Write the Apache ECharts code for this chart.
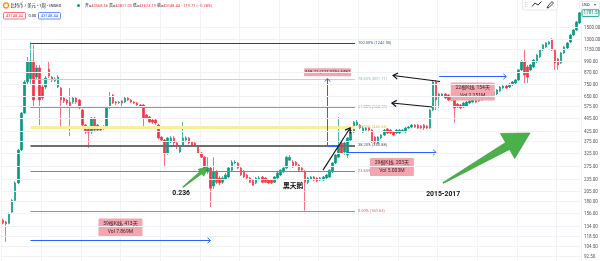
<!DOCTYPE html>
<html>
<head>
<meta charset="utf-8">
<script src="https://cdn.jsdelivr.net/npm/echarts@6/dist/echarts.min.js"></script>
<style>
  html, body { margin: 0; padding: 0; background: #ffffff; }
  #main { width: 600px; height: 261px; }
</style>
</head>
<body>
<div id="main"></div>
<script>
// Weekly candles, each [open, close, low, high]
const candles = [
  [143, 138, 136, 146], [140, 137, 110, 142], [138, 155, 136, 157], [158, 182, 155, 185],
  [182, 225, 180, 230], [225, 336, 222, 340], [336, 527, 332, 533], [527, 768, 520, 787],
  [768, 980, 750, 1041], [800, 992, 750, 1242],
  [992, 617, 567, 1206], [816, 911, 787, 945], [911, 617, 455, 945], [723, 632, 617, 741],
  [723, 806, 706, 827], [900, 827, 806, 980], [816, 787, 768, 827], [780, 797, 768, 816],
  [723, 816, 714, 837], [714, 617, 444, 723],
  [632, 610, 595, 648], [617, 595, 581, 625], [602, 567, 398, 714], [602, 632, 588, 648],
  [632, 602, 588, 640], [617, 560, 553, 625], [546, 455, 444, 553], [455, 418, 408, 461],
  [444, 418, 344, 450], [418, 496, 408, 502],
  [496, 428, 418, 502], [428, 455, 423, 461], [444, 428, 418, 450], [439, 444, 428, 455],
  [444, 567, 439, 574], [567, 640, 553, 680], [656, 595, 588, 664], [602, 595, 581, 610],
  [598, 602, 588, 610], [610, 595, 560, 617],
  [602, 632, 595, 640], [632, 617, 610, 640], [617, 602, 595, 625], [602, 595, 588, 610],
  [595, 581, 574, 602], [581, 567, 560, 588], [581, 496, 444, 588], [514, 496, 490, 520],
  [502, 472, 467, 508], [484, 472, 461, 490],
  [484, 467, 455, 490], [455, 389, 384, 461], [393, 379, 370, 398], [379, 324, 273, 384],
  [324, 389, 316, 393], [375, 389, 366, 398], [389, 366, 357, 398], [366, 348, 340, 370],
  [328, 352, 320, 357], [357, 389, 352, 472],
  [379, 389, 370, 398], [389, 366, 361, 393], [370, 357, 352, 375], [366, 357, 352, 370],
  [352, 324, 320, 357], [324, 308, 305, 328], [308, 257, 251, 312], [257, 270, 251, 308],
  [270, 211, 168, 273], [217, 257, 209, 308],
  [257, 227, 222, 263], [239, 225, 219, 245], [227, 239, 222, 245], [236, 248, 233, 254],
  [242, 270, 239, 276], [263, 290, 260, 297], [287, 290, 283, 297], [287, 270, 266, 290],
  [270, 248, 245, 273], [260, 242, 239, 263],
  [248, 239, 236, 251], [239, 227, 225, 242], [233, 219, 217, 236], [225, 239, 222, 242],
  [236, 239, 233, 245], [242, 227, 225, 245], [239, 227, 225, 242], [233, 225, 222, 236],
  [233, 225, 222, 236], [227, 242, 225, 245],
  [239, 254, 236, 257], [248, 263, 245, 266], [257, 270, 254, 273], [270, 308, 266, 312],
  [297, 308, 294, 316], [290, 273, 270, 297], [290, 280, 276, 294], [280, 263, 260, 283],
  [270, 263, 257, 273], [257, 227, 160.63, 263],
  [227, 239, 222, 242], [236, 242, 233, 245], [242, 233, 230, 245], [239, 230, 227, 242],
  [233, 239, 230, 242], [233, 242, 230, 245], [239, 248, 236, 251], [242, 263, 239, 266],
  [257, 287, 254, 290], [287, 316, 283, 320],
  [308, 348, 305, 502], [366, 324, 320, 375], [328, 366, 316, 370], [316, 389, 305, 393],
  [379, 428, 370, 434], [418, 472, 413, 478], [455, 472, 450, 484], [455, 439, 434, 461],
  [418, 439, 413, 450], [428, 439, 423, 444],
  [439, 428, 418, 444], [428, 370, 366, 434], [393, 370, 361, 398], [366, 393, 361, 398],
  [389, 403, 384, 408], [403, 428, 398, 434], [434, 413, 408, 439], [428, 413, 408, 434],
  [418, 403, 398, 423], [413, 428, 408, 434],
  [413, 428, 408, 434], [423, 428, 418, 434], [418, 439, 413, 444], [439, 444, 434, 450],
  [444, 455, 439, 461], [455, 444, 439, 461], [455, 439, 434, 461], [450, 439, 434, 455],
  [455, 439, 428, 461], [450, 439, 434, 455],
  [439, 546, 434, 553], [546, 768, 540, 778], [768, 617, 546, 787], [640, 664, 560, 672],
  [648, 664, 640, 672], [664, 632, 625, 672], [656, 617, 610, 664], [640, 617, 610, 648],
  [617, 560, 467, 625], [588, 567, 560, 595],
  [581, 560, 553, 588], [567, 595, 560, 602], [574, 602, 567, 610], [595, 610, 588, 617],
  [602, 617, 595, 625], [617, 602, 595, 625], [610, 625, 602, 632], [617, 632, 610, 640],
  [640, 625, 617, 648], [632, 648, 625, 656],
  [640, 664, 632, 672], [656, 680, 648, 689], [664, 697, 656, 706], [689, 723, 680, 732],
  [714, 732, 706, 741], [732, 714, 706, 741], [723, 750, 714, 759], [741, 768, 732, 778],
  [759, 787, 750, 797], [787, 890, 778, 900],
  [890, 980, 879, 1004], [980, 837, 759, 1134], [922, 816, 759, 945], [890, 945, 879, 957],
  [922, 1004, 911, 1017], [980, 1068, 968, 1081], [1041, 1134, 1029, 1148], [1134, 1206, 1121, 1220],
  [1176, 1235, 1162, 1250], [1220, 1250, 1206, 1266],
  [1281, 1134, 1121, 1312], [1134, 968, 890, 1148], [1017, 945, 890, 1029], [968, 1094, 957, 1107],
  [1094, 1176, 1081, 1191], [1162, 1235, 1148, 1250], [1250, 1361, 1235, 1378], [1361, 1446, 1345, 1464],
  [1446, 1594, 1429, 1614], [1575, 1781.51, 1556, 1800]
];
const categories = candles.map((_, i) => i);

// Price scale ticks on the right
const priceTicks = [1500, 1300, 1150, 990, 870, 750, 650, 575, 495, 425, 375, 325, 275,
  235, 205, 180, 156, 134, 118.5, 104.5, 92.5];
const lastPrice = 1781.51;

// Fibonacci retracement (log scale), 0% low to 100% high
const fibRatios = ['0.00%', '23.60%', '38.20%', '50.00%', '61.80%', '78.60%', '100.00%'];
const fibPrices = [160.63, 260.29, 350.88, 446.66, 568.59, 801.71, 1242.00];
const fibStartBar = 9;
const fibEndBar = 115.4;

// Date-range measurements
const rangeFrom = [9, 113, 143];
const rangeTo = [68, 142, 165];
const rangeArrowPrice = [112.4, 328, 822];
const rangeLabelPrice = [131, 273, 684];
const rangeBars = ['59根K线, 413天', '29根K线, 203天', '22根K线, 154天'];
const rangeVol = ['Vol 7.869M', 'Vol 5.003M', 'Vol 2.251M'];

// Price-range measurement
const measureBar = 106.2;
const measureFrom = 352.04;
const measureTo = 800.25;
const measureText = '448.21 (127.32%) 4482';

// Hand-drawn arrows: [bar, price] pairs
const blackArrowFrom = [[104.9, 263], [143.3, 773], [140.7, 567]];
const blackArrowTo = [[113.8, 439], [127.9, 832], [127.5, 595]];
const greenArrowFrom = [[59.0, 214], [144.3, 225]];
const greenArrowTo = [[67.2, 273], [172.8, 413]];

// Text notes
const noteText = ['0.236', '黑天鹅', '2015-2017'];
const noteAt = [[58.4, 199], [95.1, 217], [144.3, 196]];

// Header quote
const headerTitle = '比特币 / 美元 - 1周 - INDEX';
const quoteKeys = ['开', '高', '低', '收'];
const quoteVals = ['43568.56', '43811.05', '41623.19', '43148.44'];
const quoteChange = '−119.71 (−0.28%)';
const headerPrice = '43148.44';
const headerSpread = '0.00';

const W = 600, H = 261;
const GRID = { left: 1.5, right: 19, top: 0, bottom: 0 };
const Y_MIN = 87.1, Y_MAX = 2083;
const FONT = "Roboto, 'Noto Sans CJK SC', sans-serif";
const UP = '#089981', DOWN = '#f23645';
const BLUE = '#2962ff';

const chart = echarts.init(document.getElementById('main'), null, { renderer: 'canvas' });
chart.setOption({
  animation: false,
  backgroundColor: '#ffffff',
  grid: { left: GRID.left, right: GRID.right, top: GRID.top, bottom: GRID.bottom },
  xAxis: {
    type: 'category', data: categories, boundaryGap: true,
    axisLine: { show: false }, axisTick: { show: false }, axisLabel: { show: false },
    splitLine: { show: true, interval: 12, lineStyle: { color: '#f0f2f6', width: 1 } }
  },
  yAxis: {
    type: 'log', logBase: 10, min: Y_MIN, max: Y_MAX,
    axisLine: { show: false }, axisTick: { show: false }, axisLabel: { show: false },
    splitLine: { show: false }
  },
  series: [{
    type: 'candlestick', data: candles, barWidth: 2, z: 2,
    itemStyle: { color: UP, color0: DOWN, borderColor: UP, borderColor0: DOWN, borderWidth: 0.7 }
  }]
});

function px(i, v) {
  const i0 = Math.floor(i);
  const a = chart.convertToPixel({ xAxisIndex: 0, yAxisIndex: 0 }, [i0, v]);
  const b = chart.convertToPixel({ xAxisIndex: 0, yAxisIndex: 0 }, [i0 + 1, v]);
  return [a[0] + (b[0] - a[0]) * (i - i0), a[1]];
}
function chevron(p0, p1, len, ang) {
  const dx = p1[0] - p0[0], dy = p1[1] - p0[1], L = Math.hypot(dx, dy);
  const ux = dx / L, uy = dy / L;
  const side = s => [p1[0] - len * (ux * Math.cos(s) - uy * Math.sin(s)),
                     p1[1] - len * (ux * Math.sin(s) + uy * Math.cos(s))];
  return [side(ang), p1, side(-ang)];
}
function blockArrow(p0, p1, tailW, shaftW, headW, headL) {
  const dx = p1[0] - p0[0], dy = p1[1] - p0[1], L = Math.hypot(dx, dy);
  const ux = dx / L, uy = dy / L, nx = -uy, ny = ux;
  const bx = p1[0] - ux * headL, by = p1[1] - uy * headL;
  const off = (x, y, w) => [x + nx * w / 2, y + ny * w / 2];
  return [off(p0[0], p0[1], tailW), off(bx, by, shaftW), off(bx, by, headW), p1,
          off(bx, by, -headW), off(bx, by, -shaftW), off(p0[0], p0[1], -tailW)];
}
function txt(x, y, s, st, z) {
  return { type: 'text', x: x, y: y, z: z || 20, silent: true,
    style: Object.assign({ text: s, fontFamily: FONT, fontSize: 4.5, fill: '#131722',
      align: 'left', verticalAlign: 'middle' }, st || {}) };
}
function seg(x1, y1, x2, y2, stroke, w, z) {
  return { type: 'line', z: z || 15, silent: true, shape: { x1, y1, x2, y2 },
    style: { stroke: stroke, lineWidth: w } };
}

const g = [];
const xL = GRID.left, xR = W - GRID.right;

// horizontal grid and price scale labels
priceTicks.forEach(v => {
  const y = Math.round(px(0, v)[1]) + 0.5;
  g.push(seg(xL, y, xR, y, '#f0f2f6', 1, 0));
  g.push(txt(xR + 3, y, v.toFixed(2), { fill: '#50535e', fontSize: 4.5 }, 5));
});

// fibonacci levels
const fibStyles = [
  { color: '#e57373', width: 1, label: '#e06666' },
  { color: '#dc5a80', width: 1.2, label: '#d9547a' },
  { color: '#6e6e6e', width: 2, label: '#555555' },
  { color: '#f8ef9a', width: 3, label: '#d8c74f' },
  { color: '#74b06f', width: 1, label: '#5f9e5a' },
  { color: '#b4d6ea', width: 1, label: '#8fbcd8' },
  { color: '#2c426f', width: 1, label: '#3b5998' }
];
fibPrices.forEach((v, k) => {
  const a = px(fibStartBar, v), b = px(fibEndBar, v);
  const st = fibStyles[k];
  const y = Math.round(a[1]) + (st.width === 2 ? 0 : 0.5);
  g.push(seg(a[0], y, b[0], y, st.color, st.width, 10));
  g.push(txt(b[0] + 3, y + 1, fibRatios[k] + ' (' + v.toFixed(2) + ')',
    { fill: st.label, fontSize: 4, verticalAlign: 'bottom' }, 11));
});

// date ranges
const BOX_FILL = '#f3a6ae', BOX_TEXT = '#3b1d22';
rangeFrom.forEach((f, k) => {
  const a = px(f, rangeArrowPrice[k]), b = px(rangeTo[k], rangeArrowPrice[k]);
  const y = Math.round(a[1]) + 0.5;
  g.push(seg(a[0], y, b[0], y, BLUE, 1, 12));
  g.push({ type: 'polyline', z: 12, silent: true,
    shape: { points: chevron([a[0], y], [b[0], y], 4, 0.75) },
    style: { stroke: BLUE, lineWidth: 1, fill: null } });
  const c = px((f + rangeTo[k]) / 2, rangeLabelPrice[k]);
  g.push({ type: 'rect', z: 13, silent: true,
    shape: { x: c[0] - 22, y: c[1] - 9, width: 44, height: 18, r: 1 },
    style: { fill: BOX_FILL, stroke: null } });
  g.push(txt(c[0], c[1] - 4, rangeBars[k], { fill: BOX_TEXT, fontSize: 5, align: 'center' }, 14));
  g.push(txt(c[0], c[1] + 4, rangeVol[k], { fill: BOX_TEXT, fontSize: 5, align: 'center' }, 14));
});

// price range measurement
(function () {
  const p0 = px(measureBar, measureFrom), p1 = px(measureBar, measureTo);
  const x = Math.round(p0[0]) + 0.5;
  g.push(seg(x, p0[1], x, p1[1], BLUE, 1, 12));
  g.push(seg(x, Math.round(p0[1]) + 0.5, x + 11, Math.round(p0[1]) + 0.5, BLUE, 1, 12));
  g.push({ type: 'polyline', z: 12, silent: true,
    shape: { points: chevron([x, p0[1]], [x, p1[1]], 4, 0.75) },
    style: { stroke: BLUE, lineWidth: 1, fill: null } });
  g.push({ type: 'rect', z: 13, silent: true,
    shape: { x: x - 23.5, y: p1[1] - 10.5, width: 47, height: 8, r: 1 },
    style: { fill: BOX_FILL } });
  g.push(txt(x, p1[1] - 6.5, measureText, { fill: BOX_TEXT, fontSize: 4.4, align: 'center' }, 14));
})();

// black arrows
blackArrowFrom.forEach((f, k) => {
  const p0 = px(f[0], f[1]), p1 = px(blackArrowTo[k][0], blackArrowTo[k][1]);
  g.push(seg(p0[0], p0[1], p1[0], p1[1], '#111111', 1.1, 16));
  g.push({ type: 'polyline', z: 16, silent: true,
    shape: { points: chevron(p0, p1, 5.5, 0.6) },
    style: { stroke: '#111111', lineWidth: 1.2, fill: null } });
});

// green block arrows
const greenShape = [[0.8, 3, 9, 9], [1, 8, 29, 26]];
greenArrowFrom.forEach((f, k) => {
  const p0 = px(f[0], f[1]), p1 = px(greenArrowTo[k][0], greenArrowTo[k][1]);
  const s = greenShape[k];
  g.push({ type: 'polygon', z: 16, silent: true,
    shape: { points: blockArrow(p0, p1, s[0], s[1], s[2], s[3]) },
    style: { fill: '#4cb04a', stroke: '#36963a', lineWidth: 0.6 } });
});

// notes
noteText.forEach((s, k) => {
  const p = px(noteAt[k][0], noteAt[k][1]);
  g.push(txt(p[0], p[1], s, { fill: '#111111', fontSize: 6.8, fontWeight: 'bold', align: 'center' }, 17));
});

// last price tag
(function () {
  const p = px(189, lastPrice);
  g.push({ type: 'rect', z: 6, silent: true,
    shape: { x: xR + 1, y: Math.round(p[1]) - 3.5, width: 17, height: 7, r: 1 },
    style: { fill: '#e8f5f2', stroke: UP, lineWidth: 0.8 } });
  g.push(txt(xR + 2.6, Math.round(p[1]), lastPrice.toFixed(2), { fill: UP, fontSize: 4.5 }, 7));
})();

// header: symbol and quote
g.push({ type: 'circle', z: 20, silent: true, shape: { cx: 6, cy: 5.5, r: 2.5 },
  style: { fill: '#ffffff', stroke: '#f7931a', lineWidth: 1.3 } });
g.push(txt(10.5, 5.5, headerTitle, { fontSize: 4.3 }));
g.push({ type: 'circle', z: 20, silent: true, shape: { cx: 78.5, cy: 5.5, r: 1.5 },
  style: { fill: UP } });
let rich = '';
quoteKeys.forEach((k, i) => { rich += '{k|' + k + '=}{v|' + quoteVals[i] + '} '; });
rich += '{v|' + quoteChange + '}';
g.push(txt(85, 5.5, rich, { fontSize: 4, rich: {
  k: { fill: '#131722', fontSize: 4, fontFamily: FONT },
  v: { fill: DOWN, fontSize: 4, fontFamily: FONT } } }));
g.push({ type: 'rect', z: 20, silent: true, shape: { x: 3.5, y: 12.5, width: 22, height: 6.5, r: 1 },
  style: { fill: '#ffffff', stroke: DOWN, lineWidth: 0.7 } });
g.push(txt(14.5, 15.8, headerPrice, { fill: DOWN, fontSize: 4, align: 'center' }));
g.push(txt(28.5, 15.8, headerSpread, { fontSize: 4 }));
g.push({ type: 'rect', z: 20, silent: true, shape: { x: 38.5, y: 12.5, width: 22, height: 6.5, r: 1 },
  style: { fill: '#ffffff', stroke: BLUE, lineWidth: 0.7 } });
g.push(txt(49.5, 15.8, headerPrice, { fill: BLUE, fontSize: 4, align: 'center' }));

// drawing toolbar
g.push({ type: 'rect', z: 20, silent: true, shape: { x: 522.5, y: -2, width: 35, height: 12, r: 2 },
  style: { fill: '#ffffff', stroke: '#dfe2ea', lineWidth: 0.8 } });
[2.5, 4.5, 6.5].forEach(yy => {
  g.push({ type: 'circle', z: 21, silent: true, shape: { cx: 525.5, cy: yy, r: 0.4 }, style: { fill: '#9598a1' } });
  g.push({ type: 'circle', z: 21, silent: true, shape: { cx: 527, cy: yy, r: 0.4 }, style: { fill: '#9598a1' } });
});
g.push({ type: 'polyline', z: 21, silent: true,
  shape: { points: [[532, 6.5], [535, 3], [538, 5], [541.5, 1.5]] },
  style: { stroke: '#131722', lineWidth: 0.9, fill: null } });
g.push({ type: 'polyline', z: 21, silent: true,
  shape: { points: [[547, 8], [548, 6], [552, 1.5], [553.5, 3], [549, 7.5], [547, 8]] },
  style: { stroke: '#131722', lineWidth: 0.8, fill: null } });
g.push({ type: 'rect', z: 20, silent: true, shape: { x: 579.5, y: 1.5, width: 20, height: 7.5, r: 1 },
  style: { fill: '#ffffff', stroke: '#e0e3eb', lineWidth: 0.7 } });
g.push(txt(582, 5.3, 'USD', { fontSize: 4 }));
g.push(txt(594, 5.3, '▾', { fontSize: 4, fill: '#50535e' }));

chart.setOption({ graphic: { elements: g } });
</script>
</body>
</html>
